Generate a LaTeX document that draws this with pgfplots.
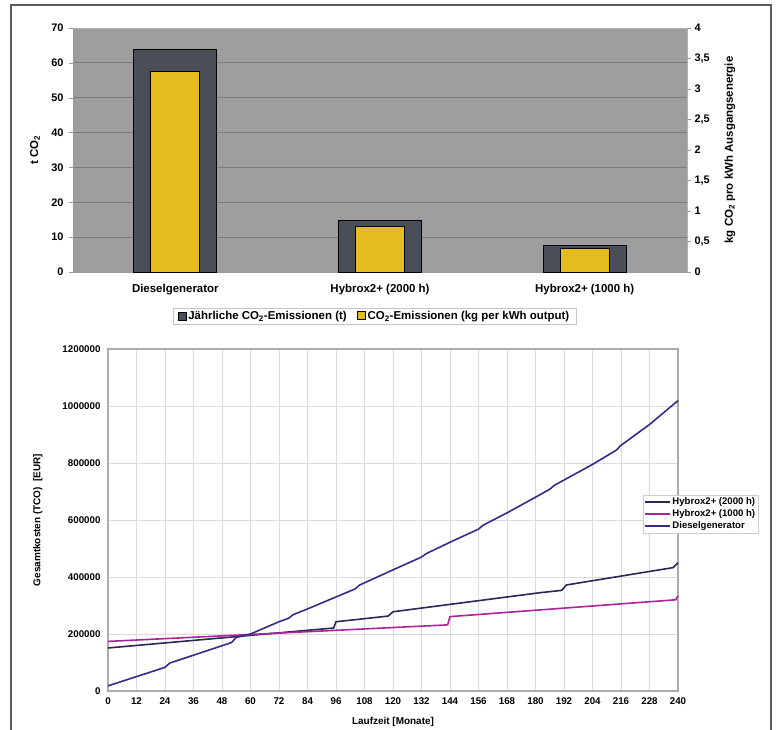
\documentclass[border=0pt]{standalone}
\usepackage{fontspec}
\setmainfont{Liberation Sans}
\usepackage{pgfplots}
\pgfplotsset{compat=1.18}

\definecolor{plotbg}{RGB}{158,158,158}
\definecolor{gridgray}{RGB}{122,122,122}
\definecolor{barDark}{RGB}{74,78,86}
\definecolor{barYellow}{RGB}{229,188,30}
\definecolor{hyb2000}{RGB}{44,38,84}
\definecolor{hyb1000}{RGB}{168,38,150}
\definecolor{diesel}{RGB}{56,42,136}
\definecolor{framegray}{RGB}{90,90,90}

\pgfplotsset{
  sqlegend/.style={legend image code/.code={\draw[##1] (0bp,-4bp) rectangle (8bp,4bp);}},
}

% annual CO2 emissions [t]
\pgfplotstableread{
x  val
0  63.9
1  14.9
2  7.7
}\annualco
% specific CO2 emissions [kg/kWh]
\pgfplotstableread{
x  val
0  3.28
1  0.75
2  0.39
}\specco

\begin{document}
\begin{tikzpicture}
\useasboundingbox (0bp,0bp) rectangle (776bp,730bp);
\draw[framegray, line width=1.2bp] (11bp,0bp) -- (11bp,725bp) -- (771bp,725bp) -- (771bp,0bp);

% ---------- upper chart: CO2 emissions ----------
\begin{axis}[
  at={(73bp,458bp)}, anchor=south west,
  width=614bp, height=244bp, scale only axis,
  xmin=-0.5, xmax=2.5, ymin=0, ymax=70,
  xtick={0,1,2},
  xticklabels={Dieselgenerator, Hybrox2+ (2000 h), Hybrox2+ (1000 h)},
  ytick={0,10,...,70},
  axis y line*=left, axis x line*=bottom,
  axis line style={gray!80, line width=0.8bp},
  axis background/.style={fill=plotbg},
  ymajorgrids, grid style={gridgray, line width=0.8bp},
  tick align=outside, major tick length=4bp,
  ytick style={gray!80}, xtick style={draw=none},
  /pgf/number format/assume math mode=true,
  tick label style={font=\bfseries\fontsize{11}{13}\selectfont},
  yticklabel style={xshift=-2bp},
  xticklabel style={font=\bfseries\fontsize{11.5}{13}\selectfont, yshift=-5bp},
  ylabel={t CO\textsubscript{2}},
  every axis y label/.style={at={(axis description cs:-0.062,0.5)}, rotate=90, anchor=center,
    font=\bfseries\fontsize{11.5}{13}\selectfont},
  clip=false,
]
\draw[gray!60, line width=0.8bp] (rel axis cs:0,1) -- (rel axis cs:1,1) -- (rel axis cs:1,0);
\addplot[ybar, bar width=83bp, bar shift=0pt, fill=barDark, draw=black, line width=0.9bp]
  table[x=x, y=val] {\annualco};
\end{axis}

\begin{axis}[
  at={(73bp,458bp)}, anchor=south west,
  width=614bp, height=244bp, scale only axis,
  xmin=-0.5, xmax=2.5, ymin=0, ymax=4,
  axis x line=none, axis y line*=right,
  axis line style={draw=none},
  ytick={0,0.5,1,1.5,2,2.5,3,3.5,4},
  tick align=outside, major tick length=4bp, ytick style={gray!80},
  /pgf/number format/assume math mode=true,
  /pgf/number format/use comma,
  tick label style={font=\bfseries\fontsize{11}{13}\selectfont},
  ylabel={kg CO\textsubscript{2} pro kWh Ausgangsenergie},
  every axis y label/.style={at={(axis description cs:1.07,0.5)}, rotate=90, anchor=center,
    font=\bfseries\fontsize{11.5}{13}\selectfont},
  legend columns=2,
  legend style={at={(axis description cs:0.491,-0.18)}, anchor=center,
    draw=gray!45, fill=white, font=\bfseries\fontsize{11.5}{13}\selectfont,
    inner xsep=5bp, inner ysep=1bp, column sep=0bp,
    /tikz/every even column/.append style={column sep=8bp}},
  clip=false,
]
\addlegendimage{sqlegend, fill=barDark, draw=black, line width=0.6bp}
\addlegendentry{Jährliche CO\textsubscript{2}-Emissionen (t)}
\addplot[ybar, bar width=49bp, bar shift=0pt, fill=barYellow, draw=black, line width=0.9bp,
  sqlegend]
  table[x=x, y=val] {\specco};
\addlegendentry{CO\textsubscript{2}-Emissionen (kg per kWh output)}
\end{axis}

% ---------- lower chart: total cost of ownership ----------
\begin{axis}[
  at={(108bp,39bp)}, anchor=south west,
  width=570bp, height=342bp, scale only axis,
  xmin=0, xmax=240, ymin=0, ymax=1200000,
  xtick={0,12,...,240},
  ytick={0,200000,400000,600000,800000,1000000,1200000},
  scaled y ticks=false,
  yticklabel style={/pgf/number format/fixed, /pgf/number format/1000 sep={}},
  grid=major, grid style={gray!28, line width=0.8bp},
  axis line style={gray!65, line width=1.3bp},
  major tick length=0pt,
  /pgf/number format/assume math mode=true,
  tick label style={font=\bfseries\fontsize{9.8}{11}\selectfont},
  xticklabel style={yshift=-3bp},
  yticklabel style={xshift=-4bp},
  xlabel={Laufzeit [Monate]},
  ylabel={Gesamtkosten (TCO) \ [EUR]},
  every axis x label/.style={at={(axis description cs:0.5,-0.091)}, anchor=center,
    font=\bfseries\fontsize{10}{12}\selectfont},
  every axis y label/.style={at={(axis description cs:-0.123,0.5)}, rotate=90, anchor=center,
    font=\bfseries\fontsize{10}{12}\selectfont},
  legend image code/.code={\draw[#1] (0bp,0bp) -- (25bp,0bp);},
  legend style={at={(axis description cs:1.0395,0.5175)}, anchor=center,
    draw=gray!40, fill=white, font=\bfseries\fontsize{9.6}{11}\selectfont,
    inner sep=1bp, row sep=-0.5bp, legend cell align=left},
  clip=false,
]
\addplot[hyb2000, line width=1.6bp] coordinates {
  (0,151000) (95,221000) (96,243000) (106,252000) (118,263000) (120,278000)
  (182,345000) (191,353000) (193,372000) (238,433000) (240,450000)
};
\addlegendentry{Hybrox2+ (2000 h)}
\addplot[hyb1000, line width=1.6bp] coordinates {
  (0,174000) (143,232000) (144,261000) (239,320000) (240,334000)
};
\addlegendentry{Hybrox2+ (1000 h)}
\addplot[diesel, line width=1.6bp] coordinates {
  (0,18000) (24,83000) (26,98000) (52,170000) (54,188000) (60,200000)
  (72,243000) (76,255000) (78,268000) (84,288000) (96,330000) (104,358000)
  (106,372000) (120,425000) (132,470000) (134,482000) (144,522000)
  (156,568000) (158,582000) (168,625000) (180,680000) (186,708000)
  (188,722000) (204,795000) (214,845000) (216,862000) (228,935000)
  (240,1019000)
};
\addlegendentry{Dieselgenerator}
\end{axis}
\end{tikzpicture}
\end{document}
